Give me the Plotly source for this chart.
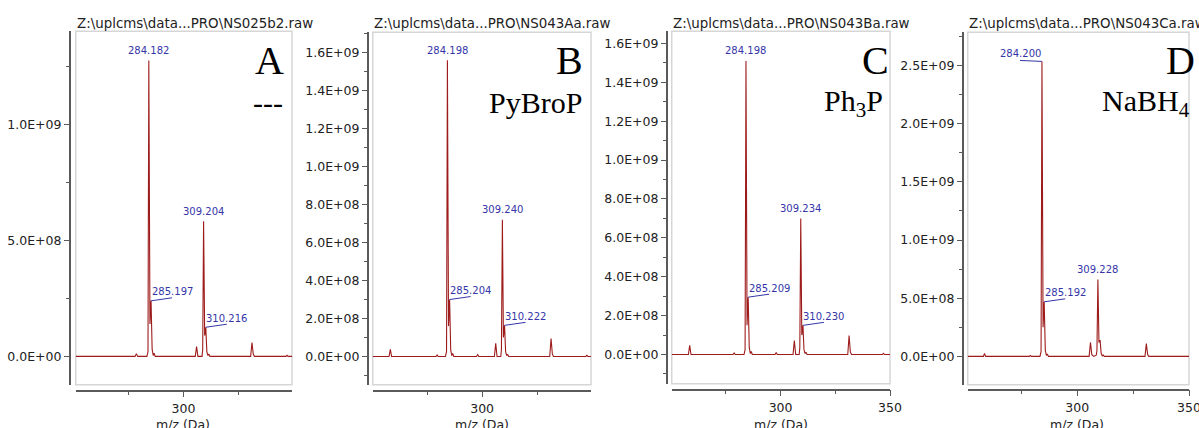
import plotly.graph_objects as go

W, H = 1199, 428          # design size (reference picture)
FW, FH = 1207, 431        # page viewport the picture is taken from

# ---------------- data ----------------
# Panel A  (NS025b2)
A_mz = [250.8, 277.9, 278.5, 279.1, 283.3, 283.8, 284.18, 284.7, 285.2, 285.7, 286.2, 286.6, 287.1,
        305.4, 306.0, 306.6, 308.5, 308.8, 309.2, 309.7, 310.2, 310.7, 311.2, 311.6, 312.1,
        330.7, 331.3, 331.9, 332.4, 346.8, 347.3, 347.8, 349.6]
A_int = [0, 0, 1.2e7, 0, 0, 2.0e7, 1.278e9, 1.4e8, 2.4e8, 3.0e7, 4e6, 1.4e7, 0,
         0, 4.3e7, 0, 0, 3.0e7, 5.83e8, 9.0e7, 1.26e8, 2.0e7, 4e6, 1.0e7, 0,
         0, 6.0e7, 1.0e7, 0, 0, 5e6, 0, 0]
A_labels = ["284.182", "309.204", "285.197", "310.216"]
A_label_mz = [284.18, 309.2, 285.2, 310.2]
A_label_int = [1.278e9, 5.83e8, 2.4e8, 1.26e8]
A_label_kind = ["top", "top", "shoulder", "shoulder"]

# Panel B  (NS043Aa)
B_mz = [250.0, 257.6, 258.2, 258.8, 279.0, 279.5, 280.0, 283.3, 283.8, 284.2, 284.7, 285.2, 285.7,
        286.2, 286.6, 287.1, 297.5, 298.0, 298.5, 305.6, 306.2, 306.8, 308.5, 308.8, 309.24,
        309.7, 310.22, 310.7, 311.2, 311.6, 312.1, 330.8, 331.4, 332.0, 332.5, 347.2, 347.7,
        348.2, 349.6]
B_int = [0, 0, 3.7e7, 0, 0, 8e6, 0, 0, 2.5e7, 1.56e9, 1.6e8, 3.0e8, 3.5e7,
         5e6, 1.6e7, 0, 0, 1.0e7, 0, 0, 6.9e7, 0, 0, 3.5e7, 7.2e8,
         1.0e8, 1.64e8, 2.5e7, 5e6, 1.2e7, 0, 0, 9.5e7, 1.2e7, 0, 0, 6e6,
         0, 0]
B_labels = ["284.198", "309.240", "285.204", "310.222"]
B_label_mz = [284.2, 309.24, 285.2, 310.22]
B_label_int = [1.56e9, 7.2e8, 3.0e8, 1.64e8]
B_label_kind = ["top", "top", "shoulder", "shoulder"]

# Panel C  (NS043Ba)
C_mz = [250.3, 257.9, 258.5, 259.1, 278.3, 278.8, 279.3, 283.3, 283.8, 284.2, 284.7, 285.21, 285.7,
        286.2, 286.6, 287.1, 297.5, 298.0, 298.5, 305.7, 306.3, 306.9, 308.5, 308.8, 309.23,
        309.7, 310.23, 310.7, 311.2, 311.6, 312.1, 330.7, 331.3, 331.9, 332.4, 346.5, 347.0,
        347.5, 350.0]
C_int = [0, 0, 4.7e7, 0, 0, 8e6, 0, 0, 2.5e7, 1.51e9, 1.5e8, 2.95e8, 3.5e7,
         5e6, 1.6e7, 0, 0, 1.0e7, 0, 0, 7.2e7, 0, 0, 3.5e7, 7.0e8,
         1.0e8, 1.5e8, 2.5e7, 5e6, 1.2e7, 0, 0, 9.8e7, 1.2e7, 0, 0, 6e6,
         0, 0]
C_labels = ["284.198", "309.234", "285.209", "310.230"]
C_label_mz = [284.2, 309.23, 285.21, 310.23]
C_label_int = [1.51e9, 7.0e8, 2.95e8, 1.5e8]
C_label_kind = ["top", "top", "shoulder", "shoulder"]

# Panel D  (NS043Ca)
D_mz = [251.0, 258.0, 258.5, 259.0, 278.5, 279.0, 279.5, 283.3, 283.8, 284.2, 284.7, 285.19, 285.7,
        286.2, 286.6, 287.1, 305.3, 305.9, 306.5, 307.4, 308.5, 308.8, 309.23, 309.7, 310.2,
        310.7, 311.2, 311.6, 312.1, 330.3, 330.9, 331.5, 332.0, 346.5, 347.0, 347.5, 350.0]
D_int = [0, 0, 2.6e7, 0, 0, 8e6, 0, 0, 4e7, 2.535e9, 2.5e8, 4.69e8, 5e7,
         8e6, 2.0e7, 0, 0, 1.2e8, 1.5e7, 0, 1e7, 5e7, 6.6e8, 1.2e8, 1.4e8,
         2.5e7, 5e6, 1.2e7, 0, 0, 1.1e8, 1.5e7, 0, 0, 5e6, 0, 0]
D_labels = ["284.200", "285.192", "309.228"]
D_label_mz = [284.2, 285.19, 309.23]
D_label_int = [2.535e9, 4.69e8, 6.6e8]
D_label_kind = ["left", "shoulder", "top"]

titles = ["Z:\\uplcms\\data...PRO\\NS025b2.raw", "Z:\\uplcms\\data...PRO\\NS043Aa.raw",
          "Z:\\uplcms\\data...PRO\\NS043Ba.raw", "Z:\\uplcms\\data...PRO\\NS043Ca.raw"]
letters = ["A", "B", "C", "D"]
reagents = ["---", "PyBroP", "Ph<sub>3</sub>P", "NaBH<sub>4</sub>"]

A_yticks = [0, 5e8, 1e9]
A_yticktext = ["0.0E+00", "5.0E+08", "1.0E+09"]
B_yticks = [0, 2e8, 4e8, 6e8, 8e8, 1e9, 1.2e9, 1.4e9, 1.6e9]
B_yticktext = ["0.0E+00", "2.0E+08", "4.0E+08", "6.0E+08", "8.0E+08", "1.0E+09", "1.2E+09", "1.4E+09", "1.6E+09"]
C_yticks = B_yticks
C_yticktext = B_yticktext
D_yticks = [0, 5e8, 1e9, 1.5e9, 2e9, 2.5e9]
D_yticktext = ["0.0E+00", "5.0E+08", "1.0E+09", "1.5E+09", "2.0E+09", "2.5E+09"]

# ---------------- layout geometry (picture pixels) ----------------
panels = [
    dict(mz=A_mz, it=A_int, lab=A_labels, lmz=A_label_mz, lint=A_label_int, kind=A_label_kind,
         yt=A_yticks, ytt=A_yticktext, yminor=2.5e8,
         box=(76, 293, 31, 382), yax_x=70, xax_y=388, xr=[250.8, 349.6], yr=[-1.22e8, 1.404e9]),
    dict(mz=B_mz, it=B_int, lab=B_labels, lmz=B_label_mz, lint=B_label_int, kind=B_label_kind,
         yt=B_yticks, ytt=B_yticktext, yminor=1e8,
         box=(374, 593, 32, 382), yax_x=369, xax_y=388, xr=[250.2, 349.6], yr=[-1.485e8, 1.708e9]),
    dict(mz=C_mz, it=C_int, lab=C_labels, lmz=C_label_mz, lint=C_label_int, kind=C_label_kind,
         yt=C_yticks, ytt=C_yticktext, yminor=1e8,
         box=(674, 893, 31, 381), yax_x=669, xax_y=387, xr=[250.3, 350.0], yr=[-1.50e8, 1.663e9]),
    dict(mz=D_mz, it=D_int, lab=D_labels, lmz=D_label_mz, lint=D_label_int, kind=D_label_kind,
         yt=D_yticks, ytt=D_yticktext, yminor=2.5e8,
         box=(971, 1193, 32, 382), yax_x=966, xax_y=387, xr=[251.0, 350.0], yr=[-2.43e8, 2.786e9]),
]
letter_right = [287, 587, 894, None]
letter_left = [None, None, None, 1168]
reagent_right = [286, 586, 888, None]
reagent_left = [None, None, None, 1104]

# label offset styles (pixels, screen: +x right, +y down)
kind_style = {
    "top": dict(tx=0, ty=-10, leader=None),
    "shoulder": dict(tx=21, ty=-9, leader=(21, -3)),
    "left": dict(tx=-21, ty=-8, leader=(-22, -1)),
}

LINE = "#9e1b1b"
LABEL = "#3535a8"
AXC = "#5a5a5a"
TXT = "#222222"
SANS = "DejaVu Sans"
SERIF = "Liberation Serif"

def px(x):
    return x / W

def py(y):
    return 1 - y / H

fig = go.Figure()
annotations = []
shapes = []
layout = {}

for i, p in enumerate(panels):
    n = i + 1
    sfx = "" if n == 1 else str(n)
    xa, ya = "x" + sfx, "y" + sfx
    bl, br, bt, bb = p["box"]

    fig.add_trace(go.Scatter(x=p["mz"], y=p["it"], mode="lines",
                             line=dict(color=LINE, width=1.1),
                             xaxis=xa, yaxis=ya, showlegend=False, hoverinfo="skip"))

    layout["xaxis" + sfx] = dict(
        domain=[px(bl), px(br)], range=p["xr"], anchor="free", position=py(p["xax_y"]),
        showline=True, linecolor=AXC, linewidth=1.5, showgrid=False, zeroline=False,
        ticks="outside", ticklen=6, tickcolor=AXC, tickwidth=1, ticklabelstandoff=1,
        tickmode="linear", tick0=0, dtick=50,
        minor=dict(ticks="outside", ticklen=4, tickcolor=AXC, tickmode="linear", tick0=0, dtick=25, showgrid=False),
        tickfont=dict(family=SANS, size=12.5, color=TXT), fixedrange=True)
    layout["yaxis" + sfx] = dict(
        domain=[py(bb), py(bt)], range=p["yr"], anchor="free", position=px(p["yax_x"]),
        showline=True, linecolor=AXC, linewidth=1.5, showgrid=False, zeroline=False,
        ticks="outside", ticklen=5, tickcolor=AXC, tickwidth=1,
        tickmode="array", tickvals=p["yt"], ticktext=p["ytt"],
        minor=dict(ticks="outside", ticklen=3, tickcolor=AXC, tickmode="linear", tick0=0, dtick=p["yminor"], showgrid=False),
        tickfont=dict(family=SANS, size=12.5, color=TXT), fixedrange=True)

    # plot frame
    shapes.append(dict(type="rect", xref="paper", yref="paper", x0=px(bl), x1=px(br), y0=py(bb), y1=py(bt),
                       line=dict(color="#d6d6d6", width=1.5), layer="below"))

    # header
    annotations.append(dict(text=titles[i], xref="paper", yref="paper", x=px(bl - 1), y=py(23),
                            xanchor="left", yanchor="middle", showarrow=False,
                            font=dict(family=SANS, size=13.4, color=TXT)))
    # x-axis title
    annotations.append(dict(text="m/z (Da)", xref=xa, yref="paper", x=300, y=py(422),
                            xanchor="center", yanchor="middle", showarrow=False,
                            font=dict(family=SANS, size=12.5, color=TXT)))

    # big letter and reagent
    if letter_right[i] is not None:
        annotations.append(dict(text=letters[i], xref="paper", yref="paper", x=px(letter_right[i]), y=py(60),
                                xanchor="right", yanchor="middle", showarrow=False,
                                font=dict(family=SERIF, size=40, color="black")))
        annotations.append(dict(text=reagents[i], xref="paper", yref="paper", x=px(reagent_right[i]), y=py(102),
                                xanchor="right", yanchor="middle", showarrow=False,
                                font=dict(family=SERIF, size=30, color="black")))
    else:
        annotations.append(dict(text=letters[i], xref="paper", yref="paper", x=px(letter_left[i]), y=py(60),
                                xanchor="left", yanchor="middle", showarrow=False,
                                font=dict(family=SERIF, size=40, color="black")))
        annotations.append(dict(text=reagents[i], xref="paper", yref="paper", x=px(reagent_left[i]), y=py(102),
                                xanchor="left", yanchor="middle", showarrow=False,
                                font=dict(family=SERIF, size=30, color="black")))

    # peak labels
    for t, m, v, k in zip(p["lab"], p["lmz"], p["lint"], p["kind"]):
        st = kind_style[k]
        annotations.append(dict(text=t, xref=xa, yref=ya, x=m, y=v, xanchor="center", yanchor="middle",
                                xshift=st["tx"], yshift=-st["ty"], showarrow=False,
                                font=dict(family=SANS, size=10, color=LABEL)))
        if st["leader"] is not None:
            lx, ly = st["leader"]
            shapes.append(dict(type="line", xref=xa, yref=ya, xsizemode="pixel", ysizemode="pixel",
                               xanchor=m, yanchor=v, x0=0, y0=0, x1=lx, y1=-ly,
                               line=dict(color=LABEL, width=1)))

fig.update_layout(**layout)
fig.update_layout(width=FW, height=FH, margin=dict(l=0, r=0, t=0, b=0),
                  paper_bgcolor="white", plot_bgcolor="white",
                  annotations=annotations, shapes=shapes, showlegend=False)

# remove the default page margin so the figure fills the window exactly
fig.write_html("out.html", config={"displayModeBar": False},
               post_script="document.body.style.margin='0';document.body.style.overflow='hidden';")
